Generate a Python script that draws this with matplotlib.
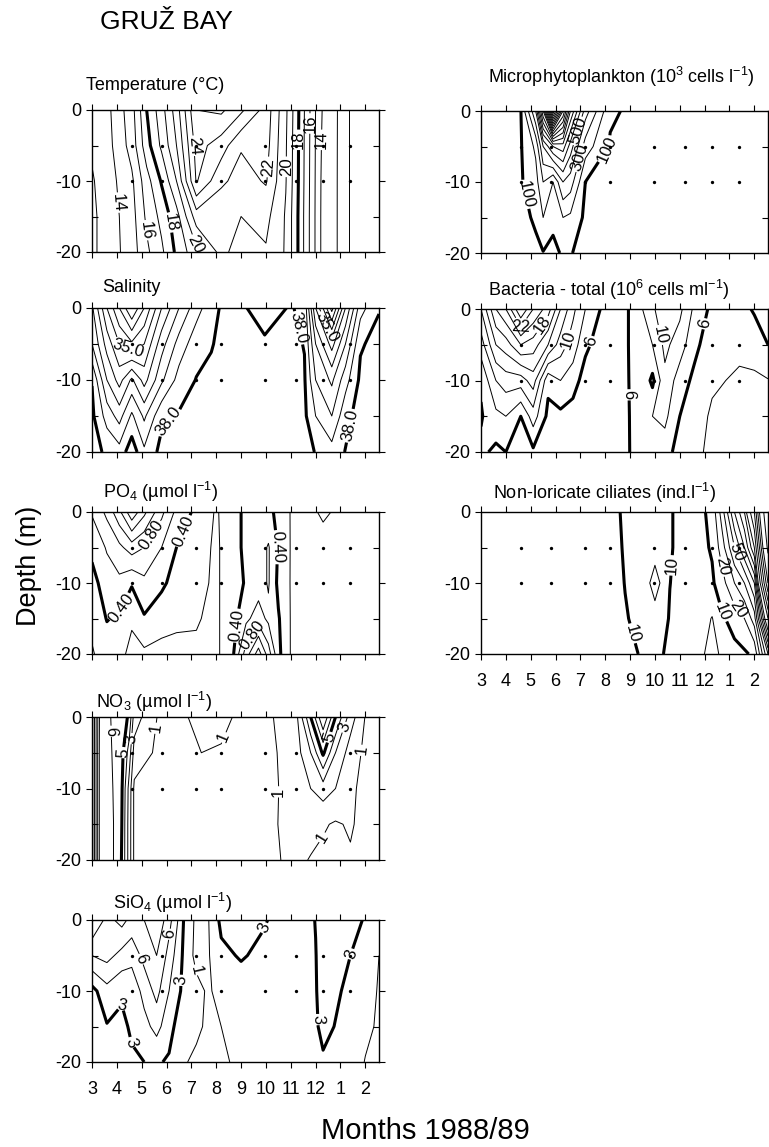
import numpy as np
import matplotlib
matplotlib.use('Agg')
import matplotlib.pyplot as plt

plt.rcParams['font.family'] = ['Liberation Sans', 'DejaVu Sans']
plt.rcParams['mathtext.fontset'] = 'custom'
plt.rcParams['mathtext.rm'] = 'Liberation Sans'
plt.rcParams['mathtext.it'] = 'Liberation Sans:italic'
plt.rcParams['mathtext.bf'] = 'Liberation Sans:bold'

# sampling depths (m) and month tick labels (March 1988 .. February 1989)
depths = [0, 5, 10, 15, 20]
month_labels = ['3', '4', '5', '6', '7', '8', '9', '10', '11', '12', '1', '2']
dot_times = [1.6, 2.8, 4.2, 5.2, 6.95, 8.2, 9.3, 10.4]

# temperature (deg C), one column per sampling time
temp_t = [0, 0.6, 1.6, 2.2, 2.8, 3.4, 4.2, 5.2, 6.0, 7.0, 7.8, 8.3, 8.75, 9.2, 10.0, 10.4, 11.55]
temp_v = [
    [13.3, 13.15, 12.9, 12.8, 12.8],
    [13.7, 13.6, 13.5, 13.4, 13.4],
    [15.6, 15.4, 14.8, 14.6, 14.5],
    [18.0, 17.6, 16.6, 16.2, 15.8],
    [19.6, 19.2, 18.1, 17.3, 16.8],
    [21.5, 21.0, 20.0, 18.6, 18.2],
    [25.0, 24.4, 24.1, 21.5, 19.7],
    [25.2, 23.5, 22.2, 21.2, 21.3],
    [24.2, 22.1, 21.6, 21.0, 20.5],
    [22.6, 22.4, 22.1, 21.3, 20.9],
    [20.2, 20.1, 20.05, 19.9, 19.9],
    [18.1, 18.05, 18.02, 17.95, 17.95],
    [16.1, 16.05, 16.02, 15.98, 15.98],
    [14.1, 14.05, 14.02, 14.01, 14.01],
    [12.8, 12.8, 12.8, 12.8, 12.8],
    [11.9, 11.9, 11.9, 11.9, 11.9],
    [11.9, 11.9, 11.9, 11.9, 11.9],
]

# salinity
sal_t = [0, 0.6, 1.1, 1.6, 2.1, 2.8, 3.5, 4.2, 4.8, 5.2, 6.0, 6.95, 8.0, 8.55, 9.0, 9.65, 10.2, 10.8, 11.55]
sal_v = [
    [36.6, 37.0, 37.98, 38.1, 38.2],
    [35.0, 35.8, 36.5, 37.3, 37.9],
    [34.0, 35.0, 35.8, 36.8, 37.7],
    [33.0, 34.6, 36.6, 37.6, 38.3],
    [34.0, 35.0, 35.8, 36.9, 37.6],
    [35.5, 36.3, 36.9, 37.9, 38.15],
    [36.5, 37.2, 37.7, 38.05, 38.2],
    [37.3, 37.8, 38.02, 38.15, 38.2],
    [37.8, 37.97, 38.1, 38.2, 38.2],
    [38.05, 38.1, 38.2, 38.2, 38.2],
    [38.05, 38.2, 38.2, 38.2, 38.2],
    [37.85, 38.05, 38.2, 38.2, 38.2],
    [38.03, 38.12, 38.15, 38.18, 38.2],
    [37.9, 37.98, 38.05, 38.1, 38.15],
    [35.5, 36.5, 37.0, 37.5, 37.98],
    [33.3, 35.3, 36.4, 37.0, 37.7],
    [35.5, 36.5, 37.3, 37.85, 38.02],
    [37.3, 37.95, 38.1, 38.2, 38.2],
    [37.97, 38.15, 38.2, 38.2, 38.2],
]

# phosphate (umol/l)
po4_t = [0, 0.6, 1.1, 1.6, 2.1, 2.8, 3.4, 4.2, 5.0, 5.6, 6.2, 6.7, 7.1, 7.5, 8.0, 8.5, 9.3, 10.4, 11.55]
po4_v = [
    [0.62, 0.45, 0.33, 0.25, 0.18],
    [0.85, 0.62, 0.50, 0.41, 0.30],
    [1.15, 0.75, 0.55, 0.37, 0.26],
    [1.55, 0.90, 0.42, 0.23, 0.14],
    [1.25, 0.80, 0.55, 0.38, 0.16],
    [0.85, 0.60, 0.45, 0.25, 0.16],
    [0.55, 0.40, 0.30, 0.22, 0.17],
    [0.35, 0.28, 0.25, 0.21, 0.18],
    [0.18, 0.17, 0.17, 0.17, 0.17],
    [0.30, 0.30, 0.30, 0.30, 0.30],
    [0.45, 0.45, 0.42, 0.55, 0.90],
    [0.50, 0.50, 0.50, 0.70, 1.30],
    [0.45, 0.62, 0.62, 0.55, 0.90],
    [0.35, 0.38, 0.35, 0.42, 0.45],
    [0.19, 0.19, 0.19, 0.19, 0.19],
    [0.15, 0.15, 0.15, 0.15, 0.15],
    [0.22, 0.15, 0.15, 0.15, 0.15],
    [0.15, 0.15, 0.15, 0.15, 0.15],
    [0.15, 0.15, 0.15, 0.15, 0.15],
]

# nitrate (umol/l)
no3_t = [0, 0.3, 0.8, 1.2, 1.5, 1.7, 2.8, 3.6, 4.4, 5.2, 5.8, 7.0, 8.2, 8.8, 9.3, 9.8, 10.4, 11.0, 11.55]
no3_v = [
    [11.5, 11.5, 11.5, 11.5, 11.5],
    [7.0, 6.9, 6.9, 6.9, 6.9],
    [5.9, 6.0, 6.1, 6.2, 6.2],
    [5.6, 5.3, 5.1, 5.0, 4.95],
    [4.8, 3.5, 2.6, 2.5, 2.5],
    [2.5, 1.6, 0.8, 0.8, 0.8],
    [0.7, 0.7, 0.6, 0.6, 0.6],
    [0.8, 0.6, 0.5, 0.5, 0.5],
    [1.4, 1.0, 0.7, 0.6, 0.6],
    [1.3, 0.9, 0.7, 0.6, 0.6],
    [0.9, 0.7, 0.6, 0.6, 0.6],
    [0.8, 0.7, 0.7, 0.8, 0.8],
    [1.6, 1.5, 1.4, 1.3, 1.2],
    [5.0, 3.0, 2.0, 1.3, 0.95],
    [8.0, 5.2, 2.5, 1.1, 0.8],
    [5.0, 3.0, 2.0, 0.9, 0.8],
    [2.5, 1.5, 1.2, 1.1, 0.9],
    [0.95, 0.8, 0.7, 0.7, 0.7],
    [0.8, 0.7, 0.7, 0.7, 0.7],
]

# silicate (umol/l)
sio4_t = [0, 0.6, 1.2, 1.6, 2.1, 2.6, 3.1, 3.3, 3.7, 3.85, 4.2, 4.7, 5.2, 6.0, 6.9, 7.5, 8.2, 9.0, 9.3, 10.4, 11.0, 11.55]
sio4_v = [
    [9.2, 6.0, 2.5, 2.2, 2.4],
    [7.0, 6.5, 4.0, 2.9, 2.5],
    [8.0, 5.5, 3.2, 2.7, 2.5],
    [7.0, 5.0, 3.5, 3.2, 2.8],
    [7.5, 6.5, 5.0, 4.0, 3.0],
    [9.0, 7.5, 6.5, 5.0, 3.2],
    [6.5, 5.5, 4.5, 3.6, 2.8],
    [5.5, 4.5, 3.8, 3.0, 2.5],
    [2.9, 2.7, 2.6, 2.4, 2.2],
    [1.5, 1.3, 1.2, 1.1, 1.0],
    [0.8, 0.8, 1.2, 1.2, 0.8],
    [1.0, 0.9, 0.9, 0.8, 0.8],
    [3.5, 2.5, 1.3, 1.0, 0.85],
    [3.8, 3.2, 2.0, 1.5, 1.2],
    [3.2, 2.5, 2.0, 1.8, 1.6],
    [2.5, 2.2, 2.0, 1.8, 1.6],
    [2.0, 2.0, 2.0, 1.8, 1.7],
    [3.05, 2.95, 2.9, 2.8, 2.6],
    [3.8, 3.7, 3.6, 3.4, 2.8],
    [3.4, 3.0, 2.7, 2.4, 2.2],
    [2.9, 2.5, 2.0, 1.5, 0.9],
    [2.5, 1.0, 0.8, 0.7, 0.6],
]

# microphytoplankton (10^3 cells/l)
micro_t = [0, 0.6, 1.6, 2.2, 2.5, 2.9, 3.3, 3.6, 4.2, 5.2, 7.0, 8.2, 9.3, 10.4, 11.55]
micro_v = [
    [60, 60, 60, 60, 60],
    [70, 70, 70, 65, 60],
    [95, 92, 90, 80, 60],
    [500, 220, 160, 110, 85],
    [1100, 500, 300, 200, 95],
    [2100, 700, 200, 120, 80],
    [1400, 750, 400, 200, 110],
    [900, 550, 350, 180, 105],
    [450, 250, 100, 80, 70],
    [115, 90, 70, 60, 50],
    [50, 50, 50, 50, 50],
    [50, 50, 50, 50, 50],
    [50, 50, 50, 50, 50],
    [50, 50, 50, 50, 50],
    [50, 50, 50, 50, 50],
]

# total bacteria (10^6 cells/ml)
bact_t = [0, 0.6, 1.0, 1.6, 2.1, 2.7, 3.2, 3.7, 4.2, 4.8, 5.2, 5.6, 6.0, 6.5, 6.9, 7.4, 8.0, 8.6, 9.3, 10.4, 11.0, 11.55]
bact_v = [
    [12.0, 9.0, 6.3, 5.8, 6.5],
    [18.0, 14.0, 10.0, 7.5, 5.5],
    [20.0, 15.0, 11.0, 8.0, 6.0],
    [26.0, 18.0, 11.0, 6.0, 5.0],
    [22.0, 17.0, 13.0, 9.0, 5.6],
    [19.0, 14.0, 6.5, 5.5, 5.0],
    [14.0, 11.0, 8.0, 5.5, 5.0],
    [10.5, 9.0, 7.0, 5.0, 4.5],
    [8.0, 6.5, 5.0, 4.5, 4.3],
    [6.0, 5.0, 4.5, 4.5, 4.5],
    [5.0, 4.5, 4.1, 4.3, 4.5],
    [5.5, 5.5, 5.3, 5.3, 5.5],
    [6.1, 6.1, 6.1, 6.05, 6.02],
    [8.0, 8.0, 7.5, 7.0, 7.0],
    [9.5, 8.0, 5.5, 8.0, 7.5],
    [12.0, 10.5, 9.5, 8.5, 7.0],
    [10.5, 9.0, 7.0, 6.0, 5.0],
    [7.5, 6.5, 5.5, 4.6, 4.2],
    [5.5, 4.8, 4.2, 3.8, 3.8],
    [5.0, 4.3, 3.8, 3.6, 3.6],
    [6.3, 4.5, 3.8, 3.6, 3.6],
    [7.5, 6.0, 3.9, 3.6, 3.6],
]

# non-loricate ciliates (ind./l)
cil_t = [0, 1.6, 2.8, 4.2, 5.2, 5.8, 6.5, 7.0, 7.6, 8.2, 8.9, 9.3, 9.7, 10.2, 10.6, 11.0, 11.55]
cil_v = [
    [7, 7, 7, 7, 7],
    [7, 7, 7, 7, 7],
    [7, 7, 7, 7, 7],
    [7, 7, 7, 7, 7],
    [7, 7, 7, 7, 7],
    [11.5, 10.8, 10.2, 9.5, 8.5],
    [14, 14, 13, 12, 10.5],
    [14, 15, 25, 15, 12],
    [10.5, 10.5, 10.1, 9.5, 8.5],
    [8, 8, 7.5, 7, 7],
    [8.5, 8, 7.5, 6.5, 5.3],
    [13, 11, 8.5, 4.8, 4.0],
    [35, 25, 16, 8.5, 5.5],
    [70, 50, 30, 14, 7],
    [90, 70, 40, 20, 8.5],
    [140, 100, 60, 35, 12],
    [300, 260, 200, 120, 60],
]

W, H = 769, 1147
fig = plt.figure(figsize=(W / 100, H / 100), dpi=100)


def px_axes(x0, top, x1, bottom):
    return fig.add_axes([x0 / W, 1 - bottom / H, (x1 - x0) / W, (bottom - top) / H])


def draw_panel(ax, t, vals, thin, thick, labels, fmt, bottom_labels=False):
    z = -np.array(depths)
    v = np.array(vals, dtype=float).T
    lab_levels = sorted(set(l for l, _ in labels))
    rest_thin = [l for l in thin if l not in lab_levels]
    rest_thick = [l for l in thick if l not in lab_levels]
    if rest_thin:
        ax.contour(t, z, v, levels=rest_thin, colors='k', linewidths=0.7)
    if rest_thick:
        ax.contour(t, z, v, levels=rest_thick, colors='k', linewidths=2.2)
    # each labelled level gets its own contour set so clabel picks the right line
    for lev in lab_levels:
        lw = 2.2 if lev in thick else 0.7
        cs = ax.contour(t, z, v, levels=[lev], colors='k', linewidths=lw)
        pos = [p for l, p in labels if l == lev]
        ax.clabel(cs, manual=pos, fmt=fmt, fontsize=12, inline=True, inline_spacing=1)
    ax.plot(dot_times, [-5] * len(dot_times), 'o', color='k', ms=2.4, mew=0)
    ax.plot(dot_times, [-10] * len(dot_times), 'o', color='k', ms=2.4, mew=0)
    ax.set_xlim(0, 11.55)
    ax.set_ylim(-20, 0)
    ax.set_xticks(range(12))
    ax.set_yticks([0, -10, -20])
    ax.set_yticks([-5, -15], minor=True)
    ax.set_yticklabels(['0', '-10', '-20'], fontsize=13)
    ax.tick_params(axis='x', which='both', direction='out', length=4, width=0.8, top=True, pad=10)
    ax.tick_params(axis='y', which='major', direction='out', length=4, width=0.8, right=True)
    ax.tick_params(axis='y', which='minor', direction='in', length=4, width=0.8, right=True)
    if bottom_labels:
        ax.set_xticklabels(month_labels, fontsize=13)
    else:
        ax.set_xticklabels([])
    for s in ax.spines.values():
        s.set_linewidth(1.0)


def fmt_int(v):
    return '%d' % round(v)


# left column
ax = px_axes(92, 110, 379, 252)
draw_panel(ax, temp_t, temp_v, [l for l in range(12, 27) if l != 18], [18],
           [(14, (1.2, -13)), (16, (2.0, -17)), (18, (2.8, -16)), (20, (4.5, -18.5)),
            (24, (4.3, -5)), (22, (7.0, -8)), (20, (7.8, -8)), (18, (8.3, -4.2)),
            (16, (8.75, -1.9)), (14, (9.2, -4.2))], fmt_int)

ax = px_axes(92, 308, 379, 452)
draw_panel(ax, sal_t, sal_v, [33.5, 34.0, 34.5, 35.0, 35.5, 36.0, 36.5, 37.0, 37.5], [38.0],
           [(35.0, (1.25, -6.8)), (38.0, (3.25, -16.3)), (38.0, (8.5, -2.6)),
            (35.0, (9.3, -2.9)), (38.0, (10.3, -16.3))], '%.1f')

ax = px_axes(92, 512, 379, 654)
draw_panel(ax, po4_t, po4_v, [0.2, 0.6, 0.8, 1.0, 1.2, 1.4], [0.4],
           [(0.4, (1.15, -13.5)), (0.8, (2.4, -3.3)), (0.4, (3.9, -3)),
            (0.4, (5.8, -16)), (0.8, (6.3, -17)), (0.4, (7.35, -5))], '%.2f')

ax = px_axes(92, 717, 379, 860)
draw_panel(ax, no3_t, no3_v, [1, 2, 3, 4, 6, 7, 8, 9, 10, 11], [5],
           [(6, (0.7, -2)), (5, (1.3, -5)), (3, (1.5, -3)), (1, (2.4, -1.5)),
            (1, (5.4, -3)), (1, (7.9, -10.5)), (5, (9.7, -3)), (3, (10.2, -1.5)),
            (1, (10.4, -4.5)), (1, (8.9, -16))], fmt_int)

ax = px_axes(92, 920, 379, 1062)
draw_panel(ax, sio4_t, sio4_v, [1, 4.5, 6, 7.5, 9], [3],
           [(3, (1.3, -11)), (3, (1.9, -17)), (6, (2.4, -5)), (6, (3.1, -2)),
            (3, (3.6, -8.5)), (1, (4.25, -7)), (3, (7.2, -1.5)), (3, (9.27, -14)),
            (3, (10.6, -5))], fmt_int, bottom_labels=True)

# right column
ax = px_axes(481, 111, 768, 253)
draw_panel(ax, micro_t, micro_v, list(range(200, 2300, 100)), [100],
           [(100, (2.1, -11.5)), (500, (3.8, -2.7)), (300, (3.9, -6.5)),
            (100, (4.7, -4.6))], fmt_int)

ax = px_axes(481, 309, 768, 452)
draw_panel(ax, bact_t, bact_v, [4, 8, 10, 12, 14, 16, 18, 20, 22, 24], [6],
           [(22, (1.5, -3.5)), (18, (2.65, -2.6)), (10, (3.7, -4.5)), (6, (4.4, -4.5)),
            (6, (6.0, -12)), (10, (7.4, -3.5)), (6, (8.9, -2))], fmt_int)

ax = px_axes(481, 512, 768, 654)
draw_panel(ax, cil_t, cil_v, [5, 20, 30, 40, 50, 60, 70, 80, 90, 100, 120, 140, 160, 180, 200, 250], [10],
           [(10, (6.2, -17)), (10, (7.6, -7.5)), (20, (9.7, -7.7)), (10, (9.9, -13.8)),
            (50, (10.1, -5.9)), (20, (10.5, -13.3))], fmt_int, bottom_labels=True)

# titles
fs = 13
fig.text(100 / W, 1 - 22 / H, 'GRUŽ BAY', fontsize=19, va='center', ha='left')
fig.text(86 / W, 1 - 86 / H, 'Temperature (°C)', fontsize=fs, va='center')
fig.text(102 / W, 1 - 287 / H, 'Salinity', fontsize=fs, va='center')
fig.text(103 / W, 1 - 492 / H, 'PO$_4$ (µmol l$^{-1}$)', fontsize=fs, va='center')
fig.text(96 / W, 1 - 702 / H, 'NO$_3$ (µmol l$^{-1}$)', fontsize=fs, va='center')
fig.text(113 / W, 1 - 903 / H, 'SiO$_4$ (µmol l$^{-1}$)', fontsize=fs, va='center')
fig.text(488 / W, 1 - 77 / H, 'Microphytoplankton (10$^3$ cells l$^{-1}$)', fontsize=fs, va='center')
fig.text(488 / W, 1 - 290 / H, 'Bacteria - total (10$^6$ cells ml$^{-1}$)', fontsize=fs, va='center')
fig.text(493 / W, 1 - 493 / H, 'Non-loricate ciliates (ind.l$^{-1}$)', fontsize=fs, va='center')

fig.text(29 / W, 1 - 566 / H, 'Depth (m)', fontsize=19.5, rotation=90, va='center', ha='center')
fig.text(425 / W, 1 - 1131 / H, 'Months 1988/89', fontsize=21, va='center', ha='center')

fig.savefig('out.png', dpi=100)
